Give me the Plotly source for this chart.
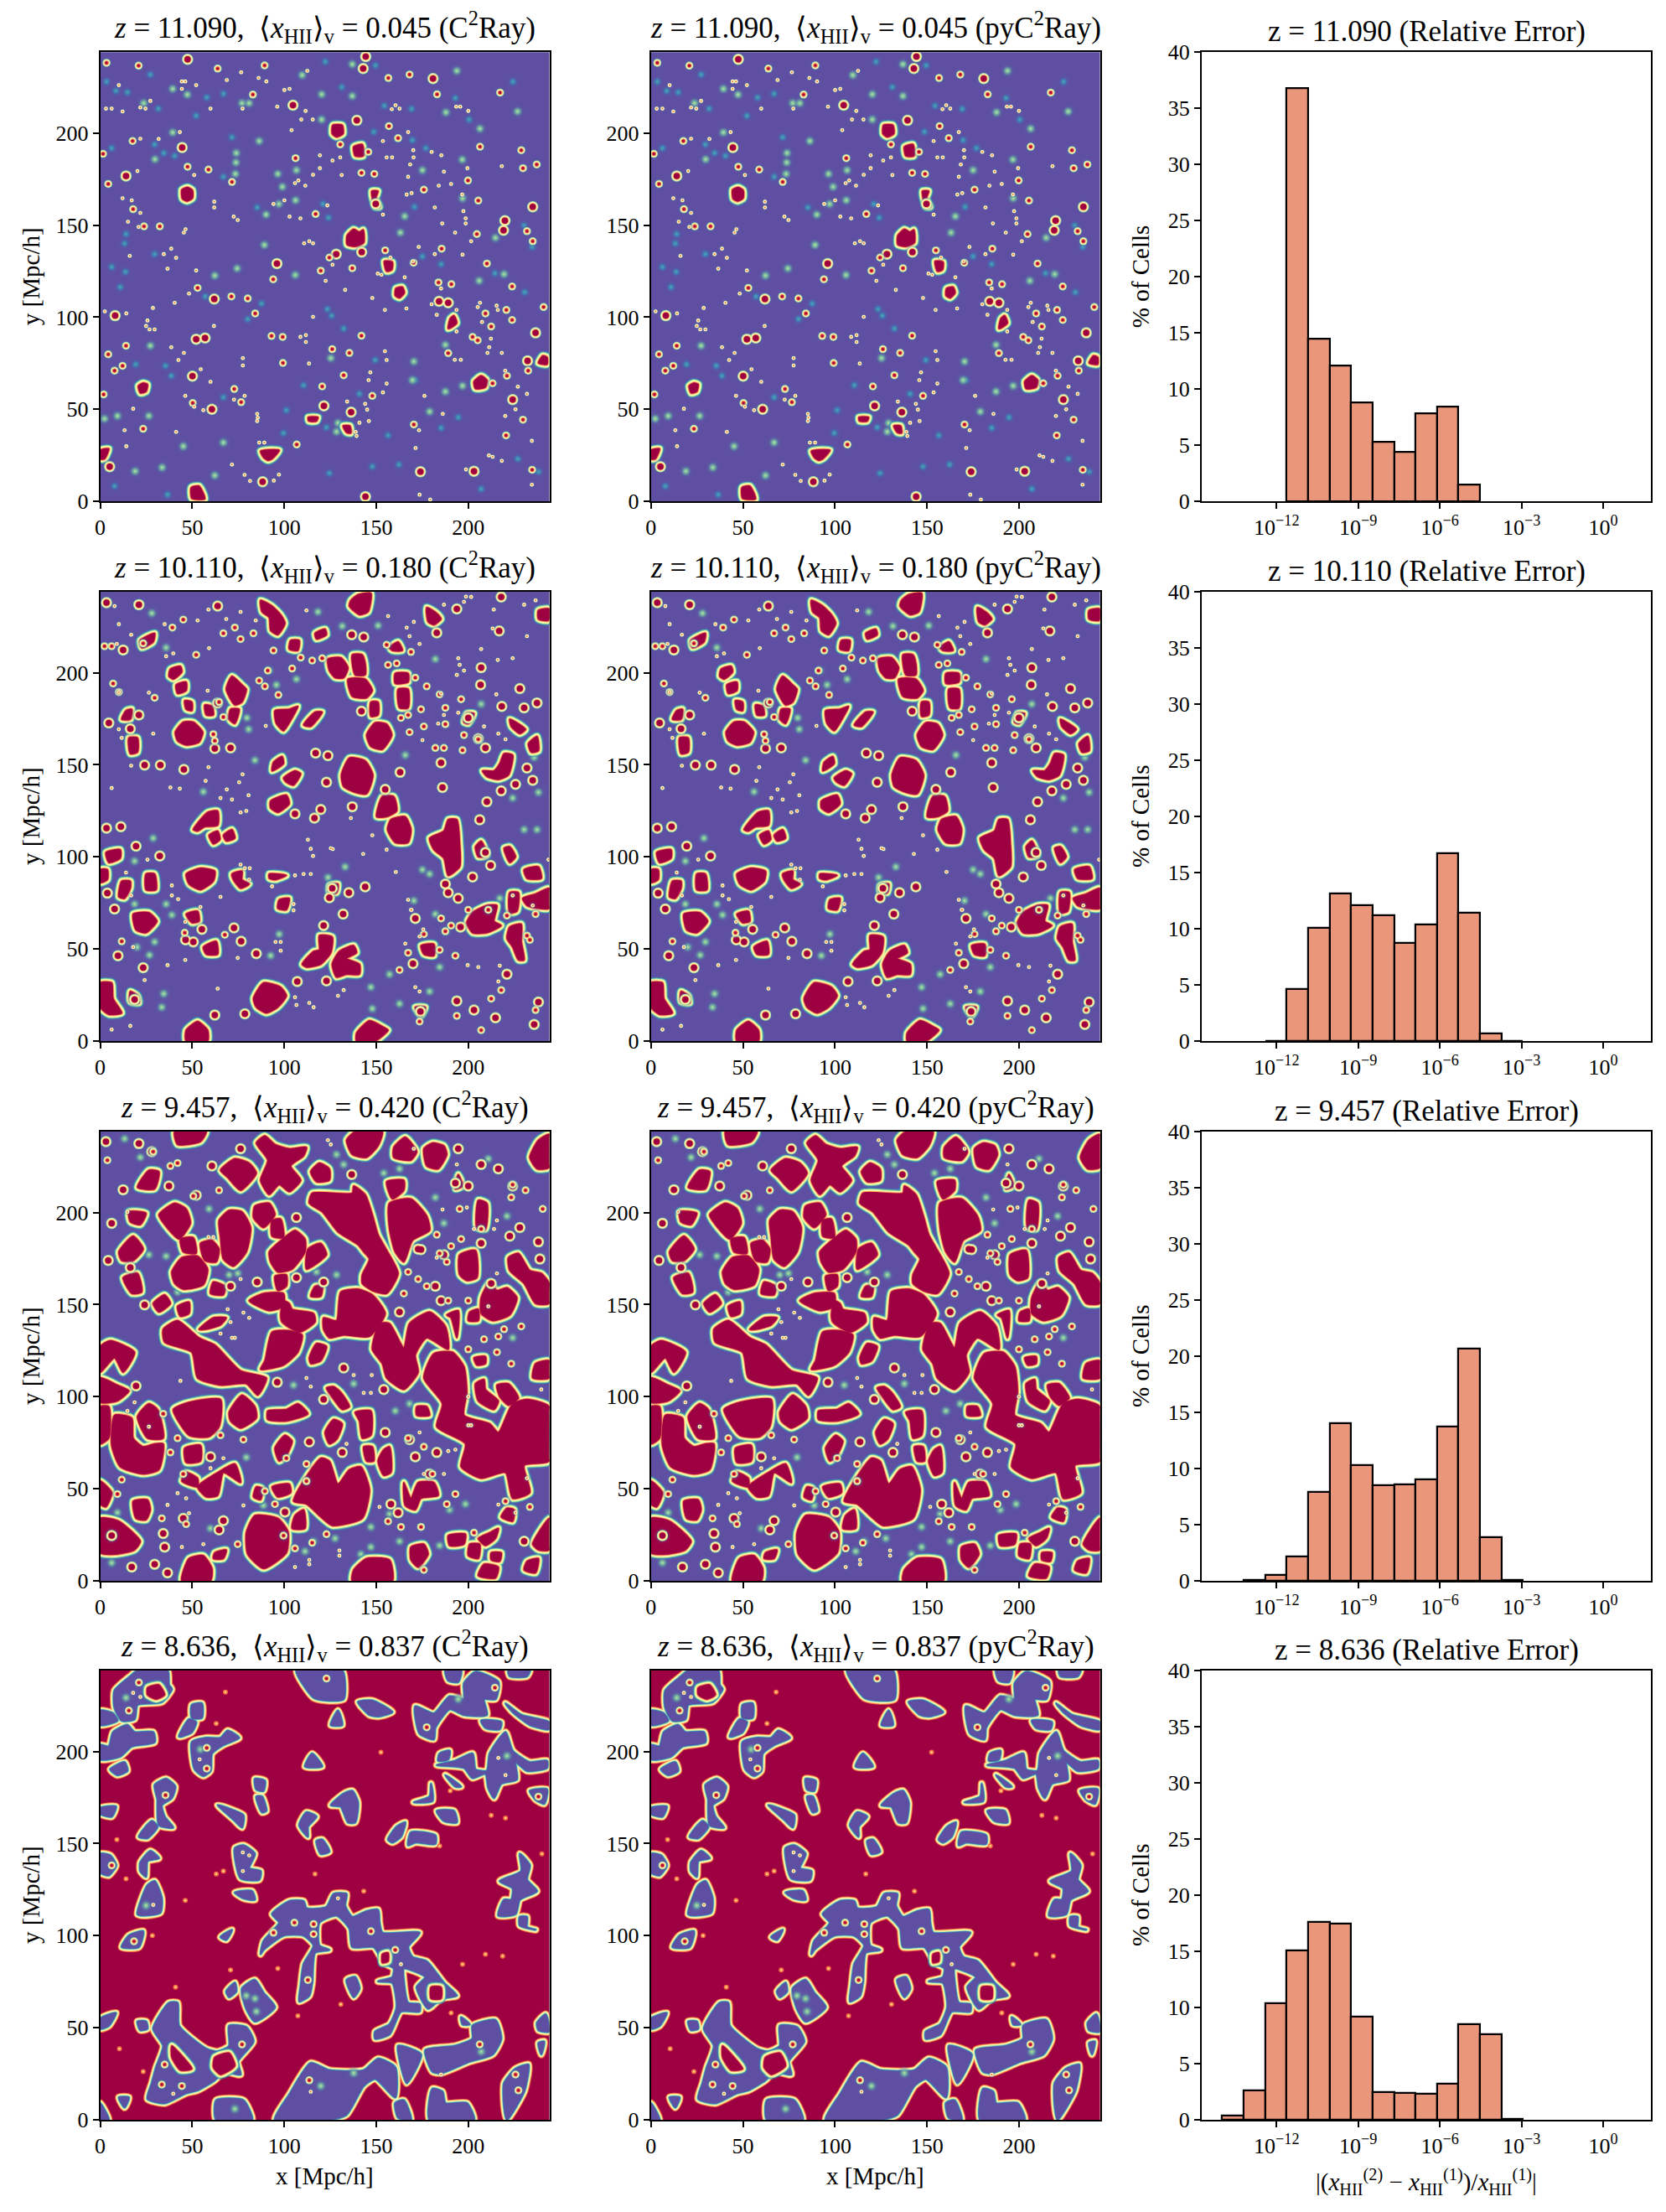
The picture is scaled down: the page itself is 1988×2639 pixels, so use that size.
import plotly.graph_objects as go

BOX = 244.0            # box size, Mpc/h
SAMPLES = 1568.0       # the map values below are read on a 1568 x 1568 sampling of the box (column, row from top)

redshifts = ["11.090", "10.110", "9.457", "8.636"]
mean_xhii = ["0.045", "0.180", "0.420", "0.837"]

hist_edges_log = [-14 + i * 15 / 19 for i in range(20)]
hist_z11 = [0, 0, 0, 36.8, 14.5, 12.1, 8.8, 5.3, 4.4, 7.8, 8.4, 1.5, 0, 0, 0, 0, 0, 0, 0]
hist_z10 = [0, 0, 0.03, 4.6, 10.1, 13.1, 12.1, 11.2, 8.7, 10.4, 16.7, 11.4, 0.7, 0.03, 0, 0, 0, 0, 0]
hist_z9 = [0, 0.05, 0.5, 2.2, 7.9, 14.0, 10.3, 8.5, 8.6, 9.0, 13.7, 20.7, 3.9, 0.1, 0, 0, 0, 0, 0]
hist_z8 = [0.4, 2.6, 10.4, 15.1, 17.6, 17.5, 9.2, 2.5, 2.4, 2.3, 3.2, 8.5, 7.6, 0.05, 0, 0, 0, 0, 0]

# ---------- z = 11.090 ----------
z11_blobs = [
 [318,1520,345,1515,362,1545,365,1560,320,1558],[285,480,305,472,322,482,322,510,303,520,287,512],
 [862,640,885,618,905,628,918,620,920,665,890,678,862,672],[812,255,845,255,848,285,825,296,810,285],
 [885,330,915,322,918,362,890,362],[133,1165,150,1155,165,1160,160,1185,140,1190],
 [1305,1150,1330,1130,1350,1145,1345,1170,1310,1175],[1530,1085,1545,1060,1560,1065,1560,1090],
 [992,730,1020,733,1018,760,1000,765],[1032,825,1055,820,1062,840,1045,858,1030,850],
 [1215,965,1222,930,1235,920,1245,945,1228,960],[560,1393,625,1390,600,1420,585,1425,570,1415],
 [848,1305,872,1305,875,1330,860,1328],[948,485,970,485,962,510,975,540,960,540],[726,1275,760,1275,755,1288,728,1288],
 [0,1390,30,1385,15,1420,0,1420],
]
z11_mid = [33,1447,390,1247,1413,588,1520,980,1440,1213,1183,870,1215,875,673,185,824,705,913,698,322,1131,90,432,286,333,1162,92,
 1510,540,1408,622,962,530,617,738,398,862,1492,1078,781,1235,52,920,366,998,335,1002,876,1257,567,1500,1118,1465,1305,1463,926,1552,927,15,918,57,896,238,305,25]
z11_small = [28,460,115,548,153,608,208,608,113,310,378,410,305,400,460,453,682,370,1326,330,1396,141,604,793,1176,147,912,421,957,425,
 1181,804,1345,912,1370,1156,1226,810,1420,1130,1365,958,1438,935,533,148,574,46,410,57,134,47,22,37,10,355,838,322,936,348,752,565,995,692,
 880,754,800,717,770,763,598,991,637,994,912,990,1215,1051,1300,994,1318,1006,1095,1300,850,1128,810,1037,870,1050,775,1167,950,1200,468,1176,
 492,1222,323,1225,150,1315,541,912,515,860,458,853,340,823,28,1055,90,1025,78,1095,50,1112,12,1195,1417,1338,686,1370,638,1085,1494,1112,1476,1283,
 1508,1458,1524,392,1476,405,1548,890,1418,900,1490,625,1315,635,1350,738,1438,818,1094,735,1192,686,1470,342,1510,660,1284,448,1320,518,1130,480,
 1040,300,1008,258,1080,78,1006,90]
z11_point = [492,70,442,97,285,102,297,102,285,128,335,115,140,193,158,197,20,197,40,197,78,207,385,197,497,197,278,279,204,303,140,302,65,115,175,170,
 723,65,553,90,580,102,643,132,661,128,618,190,717,205,702,235,742,235,668,272,1045,197,1018,199,1031,185,1285,205,1243,190,1257,190,1075,279,987,310,
 1093,342,1157,348,1191,360,1000,367,1019,367,1094,367,1075,435,811,378,838,367,767,360,767,405,843,429,743,428,1082,392,1200,417,1282,405,1402,398,
 1225,460,1182,466,1087,492,1070,497,1168,542,1264,497,1268,555,1276,580,1276,598,1194,598,1239,630,1295,660,1112,680,1168,705,1265,707,1092,730,987,567,
 1013,717,1063,786,969,773,982,777,811,742,787,798,855,830,743,924,950,858,994,900,1069,895,1157,880,1190,825,1175,917,1244,900,1244,975,1326,875,1318,890,
 1384,885,1388,900,1333,942,1364,1000,1358,1030,1352,1050,1402,1050,1238,1074,1259,1074,1414,1112,1458,1168,1490,1193,1450,1247,1414,1270,1113,1320,1101,1382,
 1357,1408,1370,1413,1402,1427,1507,1357,1277,1457,1507,1510,1115,1545,1152,1562,1196,1263,1132,1200,994,1044,1000,1075,938,1288,932,1248,925,1228,987,1188,
 1000,1157,937,1145,943,1118,905,1294,892,1326,895,1340,862,1220,729,1087,718,988,718,1012,699,994,498,1068,498,1094,397,956,292,1050,273,1075,248,1030,235,756,
 222,705,248,686,265,718,103,711,335,762,310,843,260,875,184,893,165,937,160,956,172,968,190,968,91,912,16,905,265,1326,115,1245,85,1320,91,1376,360,1250,385,1151,
 351,1107,297,1200,328,1238,504,1200,467,1213,550,1276,548,1288,548,1263,573,1363,555,1363,504,1476,523,1497,606,1496,460,1440,624,1475,661,574,699,580,480,586,
 466,574,398,542,398,522,292,630,298,618,140,561,97,592,134,610,78,510,110,517,130,415,328,429,643,517,605,530,793,535,716,466,680,457,692,448,743,667,712,667,730,660]
z11_glow = [253,280,152,178,304,148,191,374,472,425,474,385,475,352,555,310,620,425,685,412,636,470,624,530,682,517,579,567,573,673,400,780,681,778,478,755,175,1025,
 170,1270,60,1270,15,1280,400,1478,122,1463,216,1450,430,1363,290,1376,1125,412,1264,375,1265,510,1063,573,1048,630,1380,648,1323,798,1410,775,1326,267,1457,207,
 1207,210,1245,65,880,153,773,147,773,235,253,128,880,42,705,80,495,178,520,178,1205,1022,1095,1080,805,1068,1150,1255,1205,1185,830,1295,825,1325,1090,1145,1265,1165]
z11_faint = [786,33,961,46,843,122,1441,103,1240,160,992,187,1087,198,1288,235,955,278,1090,307,1137,335,1038,303,430,145,372,158,335,222,203,197,175,78,95,140,22,103,55,135,
 460,297,190,322,40,335,222,352,260,362,430,435,778,530,797,578,548,542,90,635,85,668,190,705,40,750,88,767,70,820,367,853,563,878,793,897,808,920,850,965,1190,740,1125,713,
 1378,772,1482,838,1508,680,1480,605,1097,540,1250,1275,1100,1145,905,1193,710,1163,960,1075,228,1095,124,1090,248,1130,430,1205,650,1250,515,932,640,1330,790,1310,1005,1338,
 1190,1312,1458,1420,1043,1440,950,1447,800,1470,50,1515,235,1545,1330,1525,1530,1465]

# ---------- z = 10.110 ----------
z10_blobs = [
 [262,490,290,455,325,455,358,490,345,525,300,535,270,520],[930,500,960,457,1000,462,1018,500,985,550,945,540],[842,640,870,580,925,590,952,640,930,705,890,700,850,680],
 [1150,860,1200,835,1215,795,1245,795,1255,880,1255,960,1215,990,1200,930,1165,900],[1003,830,1015,795,1065,785,1085,830,1075,875,1030,875],[965,785,985,715,1025,715,1035,765,1000,785],
 [595,730,650,710,660,740,620,770,595,755],[300,985,350,965,400,975,395,1010,350,1040,310,1020],[115,1125,170,1120,198,1150,160,1190,125,1180],
 [1280,1155,1300,1120,1350,1095,1385,1095,1375,1150,1400,1165,1350,1190,1300,1190],[535,1420,570,1365,630,1380,650,1410,620,1450,580,1470,545,1450],
 [705,1300,745,1255,765,1250,765,1200,810,1205,805,1260,770,1300,720,1310],[810,1300,835,1255,885,1235,895,1260,860,1280,905,1300,905,1335,860,1335,825,1345],
 [0,1365,40,1365,45,1420,75,1470,30,1475,0,1450],[300,1530,340,1500,375,1530,375,1568,300,1568],[895,1540,940,1497,990,1520,1005,1530,960,1568,895,1568],
 [795,235,840,230,865,265,850,300,820,300,800,275],[865,305,925,305,950,345,930,370,880,365],[880,220,915,220,925,250,925,290,890,290],
 [560,30,600,50,630,80,645,110,620,150,595,135,590,90,565,70],[900,10,945,5,935,70,905,80,870,50,875,30],[1140,55,1175,75,1190,95,1165,115,1145,105],
 [440,340,460,295,495,325,510,340,495,385,470,395],[245,270,280,260,285,280,255,305,240,295],[265,325,300,315,300,345,270,355],[610,415,660,410,690,400,670,440,640,485,615,460],
 [1030,285,1075,285,1075,315,1030,320],[1495,530,1525,505,1530,555,1505,560],[1335,625,1375,625,1395,600,1410,565,1440,570,1425,640,1390,655,1350,645],
 [640,650,680,625,700,635,675,675,650,665],[325,830,375,770,410,765,410,815,365,820,340,835],[380,850,410,835,418,865,395,880],[430,850,460,830,470,860,440,870],
 [75,1010,105,1010,105,1035,85,1070,65,1065],[160,985,190,985,195,1040,160,1040],[460,985,495,975,495,1005,520,1020,490,1035,465,1005],
 [1430,1170,1470,1160,1470,1220,1480,1285,1460,1285,1440,1240,1420,1210],[300,1125,340,1115,345,1150,320,1155],[360,1240,405,1220,410,1265,370,1265],
 [1480,970,1530,960,1540,1000,1490,1000],[1475,1070,1520,1055,1568,1035,1568,1105,1490,1095],[1430,1050,1460,1050,1455,1115,1430,1120],[100,510,130,510,130,560,105,565],
 [20,910,70,900,70,930,30,945],[0,970,25,970,25,1005,0,1015],[625,1075,660,1070,650,1110,620,1105],[590,985,620,985,650,990,610,1005,590,1000],[1310,890,1330,870,1350,920,1320,925],
 [1410,895,1430,890,1450,925,1430,945],[1530,65,1568,60,1565,100,1530,95],[1120,1235,1165,1230,1165,1270,1130,1265],[800,1025,830,1020,825,1050,800,1050],
 [105,1395,130,1410,135,1435,105,1430],[1430,445,1485,480,1465,495,1435,470],[1100,1450,1135,1450,1120,1480],[90,415,110,410,105,445,75,445],[605,595,635,575,640,600,600,625],
 [750,420,775,420,735,470,710,465],[665,170,695,170,690,205,660,200],[750,145,785,130,790,150,755,165],[1010,195,1040,175,1055,205,1020,205],[1040,340,1075,340,1075,405,1045,405],
 [945,385,970,385,970,430,945,435],[365,395,390,400,395,430,370,430],[455,410,485,410,470,460,450,445],[295,380,320,385,320,415,300,410],[140,170,190,145,185,175,145,195],
 [1280,425,1305,425,1285,460,1270,455],
]
z10_mid = [22,38,135,45,410,50,1245,60,878,150,920,158,80,203,1393,137,1175,143,1330,265,1328,325,1465,338,1525,388,410,388,30,458,105,478,135,430,1285,440,155,605,210,605,292,620,
 455,545,400,547,752,563,795,572,1047,630,790,665,880,750,995,690,1195,683,1325,796,770,760,680,775,748,790,1350,733,125,888,208,922,1345,910,1363,955,1300,995,1205,1020,1215,1050,
 1250,1070,868,1050,800,1068,810,1035,925,1030,848,1125,780,1165,545,1263,1258,1170,1100,1140,355,1178,467,1173,492,1220,325,1222,298,1215,150,1312,62,1270,790,1358,688,1360,1420,1335,
 1092,1298,1118,1465,1305,1460,1380,1487,400,1477,505,1473,120,1423,1515,1510,1245,1428,1530,1432,912,417,1400,18,22,825,72,820,50,1107,25,1052,1490,615,1400,695,1450,672,1190,597,
 1510,658,1345,545,1320,513,1480,405,1402,400]
z10_small = [290,97,252,125,15,190,40,190,150,180,335,220,470,125,430,145,490,165,535,145,605,205,700,230,775,232,740,240,670,268,585,275,555,310,575,330,622,360,1000,185,1085,210,1005,255,
 1035,250,1100,300,1140,330,1185,358,1260,375,1205,405,1120,410,1075,430,1050,440,1130,470,1080,490,1205,462,1270,500,1320,515,1170,545,1200,545,1265,553,45,320,65,350,190,370,415,385,430,437,
 395,497,400,520,75,1220,295,1190,435,1197,1190,1140,1225,1165,1205,1185,1285,1110,1355,1110,1420,1130,1520,1125,1490,1200,1500,1215,1130,1195,1075,1260,1240,1270,1185,1250,1365,1420,1520,1460,
 1400,1390,1115,1500,1330,1530,1245,1480,1045,1320]
z10_point = [50,50,378,62,490,70,340,100,440,95,225,113,108,150,65,113,58,182,380,197,230,225,255,215,720,65,543,100,1070,125,1095,105,1005,85,1200,45,1277,17,1295,18,1270,35,1374,62,
 1480,45,1520,30,1370,128,1490,155,1388,238,1250,232,1440,232,1330,200,1080,155,1115,182,1255,255,1245,290,1270,275,1383,358,375,345,65,350,170,352,65,480,185,495,75,510,578,468,
 1190,355,1200,430,1180,460,1340,470,1390,495,1415,515,1125,518,1250,422,108,607,378,612,497,637,368,660,40,685,245,683,278,687,442,690,485,665,420,720,460,725,518,710,510,765,490,770,
 875,790,725,865,950,850,1000,900,735,897,918,915,1032,978,1075,1075,1087,1110,743,922,805,895,812,898,520,1005,505,965,490,952,522,965,600,1028,680,990,710,985,735,985,420,1065,250,1060,
 250,1025,90,980,165,935,108,1060,272,1073,350,1100,297,1152,115,1240,235,1303,297,1285,480,1278,630,1253,612,1222,630,1222,675,1112,675,1090,1115,1203,1128,1178,1085,1110,1065,1228,
 1283,1303,1320,1310,1395,1305,1390,1360,1100,1380,1115,1395,850,1390,830,1410,680,1415,730,1435,685,1442,410,1385,155,1355,105,1515,40,1528,745,1450,1510,1095,1440,1060,1565,935]
z10_glow = [180,75,845,120,970,118,760,70,230,195,1330,392,1515,578,1010,1335,360,698,1185,1310,1440,720,1525,830,1480,830,1395,1070,250,1128,230,1090,120,1090,222,1403,215,1450,950,1455,
 1045,1438,945,1380,512,440,540,588,518,480,1170,235,1065,570,590,275,685,305,615,325,1530,700,1095,1078,185,860,120,940,128,1240,172,1268,190,1222,1170,1125,1205,1185,855,960,795,997,
 1125,970,1150,985,625,1195,595,1270,1150,1395]

# ---------- z = 9.457 ----------
z9_blobs = [
 [250,490,285,440,340,435,375,480,360,535,290,550,260,530],[415,310,450,275,495,280,525,335,510,420,465,470,430,445,420,370],[590,420,625,385,680,345,715,375,715,420,670,480,620,490,595,455],
 [915,500,940,445,920,420,900,395,830,350,775,280,730,250,740,215,880,215,885,190,925,220,950,290,970,360,995,405,1040,495,1000,565,950,555,915,530],
 [825,660,840,560,900,550,950,570,995,635,940,715,850,710,800,720,780,690,780,650],[950,760,975,670,1010,670,1060,755,1080,670,1150,630,1205,680,1215,760,1140,720,1100,780,1110,840,1060,900,1000,860,985,810],
 [1130,860,1165,775,1230,770,1270,820,1280,910,1270,990,1360,1020,1390,1050,1440,950,1490,935,1568,960,1568,1150,1480,1165,1500,1260,1440,1280,1415,1190,1330,1210,1260,1170,1275,1090,1175,1030,1195,950],
 [545,40,575,15,610,45,660,60,720,55,710,85,665,120,700,170,660,210,625,185,590,220,560,170,585,100],[860,30,890,0,985,0,970,50,930,90,880,80],[1010,250,1085,235,1140,295,1150,345,1090,380,1060,455,1030,420,1010,340],
 [420,135,470,95,520,110,545,145,490,205,445,160],[205,290,260,250,300,270,315,320,275,375,225,325],[65,420,115,365,150,410,115,450,75,450],[80,510,130,495,145,560,110,565],
 [220,690,270,660,345,720,400,745,490,835,580,860,550,920,510,880,420,885,340,860,320,770,225,735],[345,690,395,650,440,650,420,675,370,690],[575,800,600,700,660,695,705,710,690,770,640,815,560,830],
 [630,640,640,590,660,600,670,620,745,635,750,665,695,700,635,665],[520,590,570,565,640,565,640,610,590,625],[730,790,755,740,790,750,770,800,735,810],[255,970,310,945,420,935,415,1030,380,1065,310,1060],
 [450,980,495,920,540,960,545,1000,490,1035,455,1010],[585,975,650,970,690,950,725,985,650,1010,585,1005],[130,995,170,950,200,970,220,1070,165,1070],
 [40,1095,50,990,110,1000,115,1070,150,1100,190,1090,220,1090,205,1180,150,1195,70,1170],[785,1050,815,1005,845,1020,825,1075,800,1090],[890,980,945,975,945,1060,915,1070,905,1010],
 [610,1105,645,1060,670,1080,650,1130,625,1150],[295,1105,350,1095,350,1150,300,1155],[340,1240,410,1190,470,1160,490,1225,430,1190,410,1270,370,1275],[285,1220,300,1190,340,1210,340,1240],
 [675,1290,770,1140,800,1150,830,1230,870,1180,910,1170,940,1250,915,1350,810,1375,770,1345,720,1300],[680,1340,710,1320,715,1385,670,1385],[510,1400,540,1340,620,1350,655,1395,650,1470,570,1525,515,1475],
 [0,1350,65,1360,140,1430,120,1460,55,1475,0,1470],[115,1290,165,1285,175,1320,160,1355,125,1350],[885,1530,930,1490,1010,1495,1020,1568,880,1568],[285,1568,310,1490,360,1480,390,1525,385,1568],
 [1085,1450,1130,1440,1145,1475,1110,1520,1085,1495],[1060,1225,1085,1280,1110,1225,1165,1225,1180,1270,1120,1280,1100,1320,1065,1305],[1330,580,1360,525,1385,555,1420,545,1455,580,1430,640,1370,660,1330,635],
 [1425,440,1460,425,1500,485,1540,495,1568,530,1568,600,1520,600,1480,530,1430,485],[1255,430,1310,415,1315,510,1280,520,1255,500],[1310,880,1340,865,1345,900,1390,940,1375,970,1320,940],
 [1385,885,1425,880,1460,930,1425,955,1395,925],[1500,90,1530,30,1568,10,1568,125,1525,130],[1130,60,1160,40,1200,50,1210,80,1180,130,1140,120],[1025,55,1065,20,1105,70,1085,100,1025,90],
 [735,140,765,110,800,130,800,170,755,175],[260,0,370,0,350,35,270,45],[130,195,170,135,205,140,190,200],[1000,175,1060,170,1060,205,1020,235],[0,750,35,730,120,770,80,840,50,790,0,840],
 [0,860,60,885,100,905,60,940,0,945],[1520,810,1568,800,1568,860,1510,860],[1210,640,1250,625,1245,720,1225,650],[1360,1400,1390,1385,1380,1420,1345,1445,1320,1420],[1215,1410,1275,1405,1270,1440,1220,1445],
 [1305,790,1345,785,1345,810,1315,815],[1290,630,1320,620,1320,660,1285,660],[1420,1315,1445,1320,1440,1360,1400,1345],[1510,1440,1568,1350,1568,1460,1530,1460],[400,1470,440,1460,430,1490,395,1490],
 [1340,1510,1390,1520,1380,1558,1320,1550],[1490,1500,1530,1490,1520,1540,1480,1530],[1290,1440,1325,1440,1320,1490,1285,1480],[1365,1470,1400,1470,1395,1500,1365,1495],[0,960,30,960,30,1070,0,1090],
 [280,375,325,370,335,425,290,420],[350,390,390,380,415,410,405,455,365,450],[540,260,590,250,610,290,570,335,535,300],[600,310,630,305,640,370,600,365],[725,410,770,390,790,430,720,480],
 [750,540,775,540,770,575,735,575],[610,505,650,500,650,540,620,555],[395,525,435,540,430,570,385,565],[100,280,160,285,140,325,105,315],[815,890,840,910,870,960,845,970,805,920,790,895],
 [1105,960,1140,960,1150,990,1105,990],[185,600,225,570,245,600,205,630],[270,610,310,595,310,635,280,645],[990,1110,1010,1100,1015,1190,990,1200,970,1150],[920,1100,950,1100,955,1150,930,1150],
 [545,1240,565,1245,560,1285,535,1275],[600,1240,660,1230,665,1260,620,1275],[0,1220,40,1260,20,1310,0,1300],[1250,150,1265,190,1240,200],[1320,240,1350,250,1345,340,1315,335],
]
z9_mid = [135,42,80,203,1250,60,878,150,1465,335,1530,385,1330,390,1120,412,1175,1120,385,1135,415,1390,430,1358,220,1403,225,1450,235,1540,190,1510,28,450,105,475,155,605,40,320,290,1350,645,1328,
 1430,365,1535,445,1365,530,1190,590,1045,630,1170,540,685,300,240,190,335,222,455,540,685,510,780,525,1150,1195,1015,1300,850,825,990,900,780,935,618,875,125,888,845,1120,730,1083,548,525,
 995,1050,1080,1075,1100,1135,1390,130,1440,190,1285,190,1330,115,20,35,180,70,490,60,390,120,1240,180,1110,410,1200,430,1480,1430,40,1410,110,1520,1040,1330]
z9_small = [185,70,25,100,245,120,270,110,325,225,415,205,1440,185,1485,205,1545,270,1435,230,1330,340,1255,270,1175,360,1260,375,1185,425,1225,400,1110,515,1075,490,1140,540,1210,455,1060,565,1285,590,1215,590,
 1390,715,1340,725,1385,770,1285,760,1470,680,1410,690,1435,810,420,1060,500,1075,270,1070,245,1120,220,985,75,1215,60,1265,290,1195,215,1350,300,1370,480,1440,640,1410,680,1455,740,1435,790,1405,1050,1380,
 1130,1100,1075,1070,1160,1195,1210,1300,1240,1265,1305,1400,1415,1290,1500,1310,1120,1380,1130,1530,650,1140,720,1160,720,1220,610,1300,575,1255,1005,1360]
z9_point = [1195,272,1280,265,1305,340,378,368,395,368,455,665,470,720,500,632,520,650,445,620,420,705,460,720,720,860,735,890,920,912,945,912,885,850,948,850,835,1480,835,1462,730,1510,730,1495,680,1520,
 500,1305,270,1262,300,1280,235,1303,310,1332,285,1450,360,1440,1285,925,1295,1025,1285,1025,1490,1210,1390,1302,1450,1330,975,1310,1200,1195,1130,1195,1115,1050,1240,1110,1215,1115,1540,900,1385,495,
 1385,310,1375,340,1355,610,1175,440,1245,115,490,515,1095,60,795,30,805,45,280,870,95,975,120,945,170,1030,95,280,385,1175,430,1140,860,1090]
z9_glow = [380,270,1170,230,1200,320,675,885,885,880,1080,950,1030,975,510,1137,715,1465,820,1420,945,1380,945,1450,1045,1430,1185,1445,230,435,170,430,270,560,385,1385,1420,295,1540,440,85,25,140,90,990,145,
 850,115,825,80,1355,95,1275,1300,1045,130,1010,1335,570,1305,910,1475,745,1430,60,1330,40,1505,450,500,480,495,755,490,825,500,1440,720,1220,1320]

# ---------- z = 8.636 ----------
z8_voids = [
 [50,70,105,20,130,0,235,0,240,50,250,65,215,110,130,120,120,170,75,175,50,130],[45,215,95,190,120,215,185,215,190,250,110,265,70,300,0,310,0,260,30,265],
 [320,250,370,235,420,235,445,210,485,235,430,260,390,290,385,350,360,368,330,345],[275,230,310,170,335,180,320,215,285,230],[320,120,355,115,355,165,320,165],
 [190,400,230,378,262,405,250,445,215,470,225,510,255,548,205,540,200,480,200,450],[135,580,180,525,200,545,165,585],[0,640,35,645,55,680,30,715,0,705],[130,850,165,750,190,735,215,795,210,845,150,855],
 [140,670,175,630,205,655,165,665,160,720,140,700],[75,965,100,925,150,910,135,965],[0,480,55,475,40,510,0,500],[410,470,445,480,500,505,495,548,465,520],[540,378,575,385,570,420,545,415],
 [545,440,565,440,580,490,565,495],[695,540,720,495,755,510,725,545,725,580],[755,595,775,590,800,632,770,640],[715,335,740,290,775,335],[805,470,850,430,880,420,900,460,890,530,865,530,840,475],
 [1005,590,1035,545,1065,530,1050,580,1020,600],[1075,610,1085,565,1170,575,1170,605,1100,600],[470,620,500,610,540,640,520,690,560,700,555,730,490,725],[470,775,530,770,540,800,500,795],
 [420,930,460,905,440,940],[685,0,845,0,850,100,800,105,745,95],[805,190,830,140,845,190],[900,110,950,105,1020,145,970,160,940,155],
 [1100,125,1165,150,1220,90,1270,100,1270,45,1310,5,1390,40,1380,100,1340,100,1350,155,1270,155,1220,135,1170,200,1165,240,1115,220],[1330,175,1400,180,1395,205,1345,200],
 [1415,115,1470,155,1568,180,1568,205,1500,190,1440,145],[1205,0,1260,0,1250,40,1215,35],[1425,0,1500,0,1490,20,1430,20],
 [1175,330,1240,315,1300,290,1310,345,1350,350,1360,290,1415,215,1440,280,1500,320,1560,315,1560,340,1490,350,1450,320,1455,380,1400,395,1375,445,1355,410,1345,360,1300,375,1270,340],
 [1185,290,1220,280,1215,310,1180,315],[1205,365,1260,405,1240,405],[1095,460,1150,440,1155,395,1160,455],[1175,490,1235,490,1245,530,1200,525],[1500,420,1560,415,1550,465,1520,450],
 [1395,735,1470,700,1465,640,1500,680,1490,730,1525,770,1465,800,1450,850,1390,855,1410,800,1435,800,1440,760],[1465,860,1490,860,1490,895,1520,905,1465,890],
 [600,850,660,805,710,805,720,830,790,825,815,780,860,780,855,820,880,860,930,840,970,835,975,880,985,915,1115,915,1075,965,1090,1000,1140,1015,1200,1090,1245,1135,1190,1145,1145,1180,1105,1105,1135,1070,1060,1040,1060,1085,1075,1160,1115,1165,1115,1190,1050,1190,1010,1270,960,1285,960,1260,1010,1235,1035,1175,1020,1090,970,1085,1020,1070,1025,1040,990,1020,955,965,880,965,870,900,825,855,765,880,765,960,800,975,750,985,740,1090,730,1135,695,1155,700,1100,710,1025,745,960,710,925,640,925,570,975,560,990,570,945,625,880],
 [495,1110,540,1080,570,1125,610,1175,540,1225,510,1180],[440,1120,470,1090,475,1120,450,1140],[860,1080,890,1070,905,1110,885,1140],
 [185,1250,240,1160,270,1160,275,1240,370,1320,410,1330,450,1310,450,1240,510,1245,535,1295,480,1365,490,1410,430,1400,400,1430,340,1465,300,1475,225,1510,165,1495,180,1440,195,1385,220,1310],
 [130,1225,160,1225,165,1250,140,1255],[0,1215,55,1195,30,1240,0,1250],[660,1480,735,1370,800,1395,920,1395,970,1355,1030,1385,1030,1490,960,1425,920,1450,860,1550,800,1568,610,1568],
 [1040,1310,1120,1340,1070,1440,1050,1380],[1135,1325,1240,1310,1300,1285,1300,1240,1380,1220,1400,1285,1370,1340,1290,1365,1190,1405,1160,1400],[1160,1460,1195,1470,1205,1510,1280,1510,1305,1568,1150,1568],
 [1410,1440,1450,1390,1495,1375,1495,1400,1480,1470,1420,1568,1410,1520],[405,1500,500,1500,530,1568,405,1568],[0,1510,30,1568,0,1568],[65,1490,100,1490,85,1525],[1260,1210,1290,1235,1265,1235],
 [1525,1230,1555,1200,1568,1260,1530,1255],[1530,1300,1550,1295,1540,1340],[1030,1510,1060,1500,1085,1568,1040,1560],[0,140,45,150,60,175,0,190],[35,345,85,320,95,350,60,365],
]
z8_blobs = [[165,60,205,50,225,85,195,100,165,85],[1155,1105,1190,1105,1190,1145,1155,1145],[985,990,1005,985,1005,1015,985,1020],[400,1350,450,1335,470,1380,420,1410,395,1385],
 [250,1310,290,1350,320,1390,280,1395,250,1350]]
z8_small = [135,42,100,140,228,435,372,270,372,342,40,680,1450,1410,225,1375,215,1445,285,1450,1140,198,1378,60,1325,1305,678,880,745,885,745,920,725,1080,605,915,945,910,1030,975,730,1430,790,28,495,1305,
 1530,440,118,945,1460,1465]
z8_point = [115,78,140,92,347,310,1390,305,1415,365,185,818,830,795,735,1470,1190,1410,255,1477,1050,1025,498,700,498,635,520,645]
z8_glow = [90,95,350,275,1420,298,510,1135,540,1145,545,1190,1330,1330,1250,100,160,820,470,1530,770,1450,885,1405]
z8_specks = [67,1320,263,1105,437,75,980,285,1222,420,297,802,750,710,920,770,690,1205,840,1165,1265,1025,1345,990,1405,997,1365,505,1415,515,90,727,58,590,182,925,405,710,430,700,455,1045,620,1040,1185,612,405,185,150,1400,1542,640,1225,1195]

maps = [
 dict(bg="#5e4fa2", voids=[], blobs=z11_blobs, faint=z11_faint, glow=z11_glow, mid=z11_mid, small=z11_small, point=z11_point, specks=[]),
 dict(bg="#5e4fa2", voids=[], blobs=z10_blobs, faint=[], glow=z10_glow, mid=z10_mid, small=z10_small, point=z10_point, specks=[]),
 dict(bg="#5e4fa2", voids=[], blobs=z9_blobs, faint=[], glow=z9_glow, mid=z9_mid, small=z9_small, point=z9_point, specks=[]),
 dict(bg="#9e0142", voids=z8_voids, blobs=z8_blobs, faint=[], glow=z8_glow, mid=[], small=z8_small, point=z8_point, specks=z8_specks),
]
hists = [hist_z11, hist_z10, hist_z9, hist_z8]

W, H = 1988, 2639
col_px = [(119.6, 655.5), (776.8, 1312.6), (1434, 1970)]
row_px = [(62.3, 598), (706, 1242), (1350, 1886), (1993, 2529)]
FONT = "Liberation Serif"
TICK = 26
TITLE = 35
LABEL = 29
BLUE = "#5e4fa2"; RED = "#9e0142"

BLOB_LINES = [(12, "rgba(50,136,189,0.55)"), (9.5, "#66c2a5"), (7.6, "#e6f598"), (5.6, "#ffffbf"), (3.8, "#fdae61"), (2, "#d53e4f")]
VOID_LINES = [(9.5, "#f46d43"), (7.5, "#fee08b"), (5.8, "#ffffbf"), (4.2, "#abdda4"), (2.6, "#3288bd")]

fig = go.Figure()


def mx(c):
    return c * BOX / SAMPLES


def my(r):
    return BOX - r * BOX / SAMPLES


def poly_xy(polys):
    xs, ys = [], []
    for p in polys:
        pts = list(zip(p[0::2], p[1::2]))
        pts.append(pts[0])
        xs += [mx(a) for a, _ in pts] + [None]
        ys += [my(b) for _, b in pts] + [None]
    return xs, ys


def add_polys(polys, axes, lines, fill):
    if not polys:
        return
    xs, ys = poly_xy(polys)
    base = dict(x=xs, y=ys, mode="lines", hoverinfo="skip", showlegend=False, xaxis=axes[0], yaxis=axes[1])
    for w, c in lines:
        fig.add_trace(go.Scatter(line=dict(color=c, width=w, shape="spline", smoothing=0.6), **base))
    fig.add_trace(go.Scatter(line=dict(color=fill, width=1, shape="spline", smoothing=0.6), fill="toself", fillcolor=fill, **base))


def add_dots(flat, axes, layers):
    if not flat:
        return
    xs = [mx(v) for v in flat[0::2]]
    ys = [my(v) for v in flat[1::2]]
    for size, color, grad in layers:
        marker = dict(size=size, color=color, line=dict(width=0))
        if grad:
            marker["gradient"] = dict(type="radial", color=grad)
        fig.add_trace(go.Scatter(x=xs, y=ys, mode="markers", marker=marker, hoverinfo="skip", showlegend=False,
                                 xaxis=axes[0], yaxis=axes[1]))


shapes, annotations, layout_axes = [], [], {}
CLEAR = "rgba(94,79,162,0)"


def label(text, x, y, angle=0):
    annotations.append(dict(text=text, x=x / W, y=1 - y / H, xref="paper", yref="paper", xanchor="center", yanchor="middle",
                            textangle=angle, showarrow=False, font=dict(family=FONT, size=LABEL, color="black")))


axis_n = 0
for r in range(4):
    for c in range(3):
        axis_n += 1
        xn = "x" if axis_n == 1 else f"x{axis_n}"
        yn = "y" if axis_n == 1 else f"y{axis_n}"
        xk = "xaxis" if axis_n == 1 else f"xaxis{axis_n}"
        yk = "yaxis" if axis_n == 1 else f"yaxis{axis_n}"
        x0, x1 = col_px[c]
        y0, y1 = row_px[r]
        common = dict(showgrid=False, zeroline=False, showline=True, mirror=True, linecolor="black", linewidth=2,
                      ticks="outside", ticklen=7, tickwidth=1.7, tickcolor="black", automargin=False,
                      tickfont=dict(family=FONT, size=TICK, color="black"))
        xa = dict(common, domain=[x0 / W, x1 / W], anchor=yn)
        ya = dict(common, domain=[1 - y1 / H, 1 - y0 / H], anchor=xn)
        cx = (x0 + x1) / 2 / W
        title_y = 1 - (y0 - 3) / H
        if c < 2:
            xa.update(range=[0, BOX], tickvals=[0, 50, 100, 150, 200])
            ya.update(range=[0, BOX], tickvals=[0, 50, 100, 150, 200])
            if c == 0:
                label("y [Mpc/h]", 37, (y0 + y1) / 2, -90)
            if r == 3:
                label("x [Mpc/h]", (x0 + x1) / 2, 2596)
            m = maps[r]
            shapes.append(dict(type="rect", xref=f"{xn} domain", yref=f"{yn} domain", x0=0, x1=1, y0=0, y1=1,
                               fillcolor=m["bg"], line=dict(width=0), layer="below"))
            ax = (xn, yn)
            add_polys(m["voids"], ax, VOID_LINES, BLUE)
            add_dots(m["faint"], ax, [(16, CLEAR, "#3288bd"), (9, "rgba(50,136,189,0)", "#4fa8b0")])
            add_dots(m["glow"], ax, [(18, CLEAR, "#4fb0a8"), (11, "rgba(102,194,165,0)", "#b8e39c")])
            add_polys(m["blobs"], ax, BLOB_LINES, RED)
            add_dots(m["specks"], ax, [(6, "#f46d43", None), (2.5, "#fee08b", None)])
            add_dots(m["mid"], ax, [(20, CLEAR, "#3f9cb4"), (13.5, "#abdda4", None), (11.5, "#ffffbf", None), (9.5, "#fdae61", None), (7.5, RED, None)])
            add_dots(m["small"], ax, [(16, CLEAR, "#3f9cb4"), (9.5, "#abdda4", None), (7.5, "#ffffbf", None), (5.5, "#f46d43", None), (3.2, RED, None)])
            add_dots(m["point"], ax, [(9, CLEAR, "#66c2a5"), (4.6, "#ffffbf", None), (2, "#f46d43", None)])
            code = "C<sup>2</sup>Ray" if c == 0 else "pyC<sup>2</sup>Ray"
            text = (f"<i>z</i>\u00a0=\u00a0{redshifts[r]},\u00a0\u00a0\u27e8<i>x</i><sub>HII</sub>\u27e9<sub>v</sub>\u00a0=\u00a0"
                    f"{mean_xhii[r]} ({code})")
        else:
            centers = [(a + b) / 2 for a, b in zip(hist_edges_log[:-1], hist_edges_log[1:])]
            heights = [v if v > 0 else None for v in hists[r]]
            fig.add_trace(go.Bar(x=centers, y=heights, width=15 / 19, marker=dict(color="#e9967a", line=dict(color="black", width=2.2)),
                                 hoverinfo="skip", showlegend=False, xaxis=xn, yaxis=yn))
            xa.update(range=[-14.75, 1.75], tickvals=[-12, -9, -6, -3, 0],
                      ticktext=["10<sup>\u221212</sup>", "10<sup>\u22129</sup>", "10<sup>\u22126</sup>", "10<sup>\u22123</sup>", "10<sup>0</sup>"])
            ya.update(range=[0, 40], tickvals=[0, 5, 10, 15, 20, 25, 30, 35, 40])
            label("% of Cells", 1361, (y0 + y1) / 2, -90)
            if r == 3:
                label("|(<i>x</i><sub>HII</sub><sup>(2)</sup> \u2212 <i>x</i><sub>HII</sub><sup>(1)</sup>)/<i>x</i><sub>HII</sub><sup>(1)</sup>|",
                      (x0 + x1) / 2, 2603)
            text = f"z\u00a0=\u00a0{redshifts[r]} (Relative Error)"
        annotations.append(dict(text=text, x=cx, y=title_y, xref="paper", yref="paper", xanchor="center", yanchor="bottom",
                                showarrow=False, font=dict(family=FONT, size=TITLE, color="black")))
        layout_axes[xk] = xa
        layout_axes[yk] = ya

fig.update_layout(width=W, height=H, autosize=False, margin=dict(l=0, r=0, t=0, b=0), paper_bgcolor="white", plot_bgcolor="white",
                  showlegend=False, bargap=0, barmode="overlay", shapes=shapes, annotations=annotations,
                  font=dict(family=FONT, color="black"), **layout_axes)

fig.write_html("out.html", config={"displayModeBar": False}, post_script="document.body.style.margin='0';")
